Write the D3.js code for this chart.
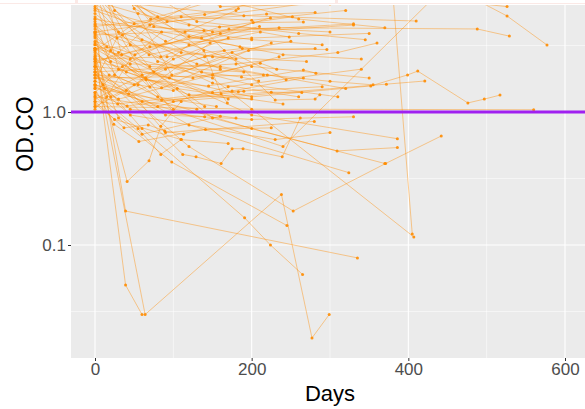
<!DOCTYPE html>
<html>
<head>
<meta charset="utf-8">
<script src="https://cdn.jsdelivr.net/npm/d3@7"></script>
<style>
  body { margin: 0; background: #fff; }
  #chart { width: 585px; height: 409px; overflow: hidden; }
  .axis text { font-family: "Liberation Sans", Arial, sans-serif; fill: #4d4d4d; }
  .axis line { stroke: #333; }
  .axis path { display: none; }
</style>
</head>
<body>
<div id="chart"></div>
<script>
// tick labels
const xTicks = [0, 200, 400, 600];
const xMinor = [100, 300, 500];
const yTicks = [0.1, 1];
const yMinor = [0.0316, 0.316, 3.16];
const refLine = 1.0;

// one array per subject: [days, OD.CO]
const upper = [
  [[0, 12], [71, 5.0], [183, 6.0]],
  [[0, 9.5], [92, 4.8], [219, 5.45], [281, 5.6]],
  [[0, 6.0], [136, 3.6], [224, 5.1]],
  [[0, 4.2], [84, 2.6], [202, 4.7], [266, 4.75]],
  [[0, 3.4], [51, 2.7], [159, 4.35], [252, 5.2]],
  [[0, 15], [34, 2.7], [171, 4.2]],
  [[0, 5.2], [69, 2.7], [211, 4.0], [248, 3.66]],
  [[0, 2.5], [92, 2.6], [188, 3.0], [296, 2.95]],
  [[0, 8], [70, 1.54], [147, 3.3]],
  [[0, 3.0], [85, 1.52], [196, 2.9], [281, 3.0]],
  [[0, 20], [98, 1.9], [225, 3.3]],
  [[0, 2.2], [125, 1.8], [211, 2.33], [232, 2.1]],
  [[0, 1.9], [145, 1.57], [266, 2.07], [282, 1.96]],
  [[0, 6.5], [136, 2.0], [187, 1.83], [209, 1.71]],
  [[0, 1.6], [43, 1.37], [175, 2.8], [244, 1.75]],
  [[0, 1.2], [29, 1.15], [175, 1.44], [266, 1.8]],
  [[0, 1.35], [41, 1.11], [183, 1.42], [190, 1.43]],
  [[0, 2.8], [85, 1.23], [225, 1.41], [264, 1.4]],
  [[0, 11], [139, 2.9], [161, 1.37], [169, 1.17]],
  [[0, 4.6], [139, 4.1], [230, 1.23], [281, 1.25], [287, 1.35]],
  [[0, 25], [160, 6.2], [300, 6.5]],
  [[0, 7.5], [60, 3.5], [130, 2.3], [215, 1.9]],
  [[0, 5.5], [30, 4.0], [110, 2.8], [180, 2.5]],
  [[0, 10], [45, 3.2], [150, 1.65], [260, 1.3]],
  [[0, 3.6], [20, 2.4], [95, 1.8], [170, 1.25]],
  [[0, 2.7], [40, 2.0], [105, 1.5], [240, 1.15]],
  [[0, 16], [75, 4.4], [200, 3.5], [290, 3.2]],
  [[0, 4.8], [25, 1.9], [80, 1.3], [155, 1.1]],
  [[0, 1.8], [50, 1.6], [120, 3.2], [210, 4.4]],
  [[0, 1.4], [35, 2.2], [115, 4.0], [180, 5.8]],
  [[0, 1.25], [60, 1.9], [140, 2.6], [250, 3.4]],
  [[0, 2.0], [20, 1.3], [90, 2.1], [165, 2.9]],
  [[0, 30], [100, 7.5], [230, 6.8]],
  [[0, 6.8], [55, 5.5], [120, 4.5], [300, 4.0]],
  [[0, 3.9], [15, 3.1], [70, 2.2], [190, 2.0]],
  [[0, 8.8], [30, 2.1], [120, 1.35], [200, 1.25]],
  [[0, 5.0], [10, 1.6], [60, 1.2], [130, 1.05]],
  [[0, 2.4], [70, 3.1], [160, 3.9], [330, 4.5]],
  [[0, 1.7], [28, 3.6], [80, 5.2], [150, 6.8]],
  [[0, 1.1], [40, 1.45], [100, 2.5], [170, 3.6]],
  [[0, 12], [25, 5.8], [90, 3.4], [160, 2.1]],
  [[0, 3.2], [65, 1.75], [150, 1.4], [290, 1.55]],
  [[0, 4.4], [110, 5.2], [200, 4.9], [320, 5.8]],
  [[0, 2.9], [50, 4.6], [140, 5.4], [240, 7.5]],
  [[0, 1.55], [30, 1.25], [150, 1.9], [235, 2.6]],
  [[0, 6.2], [35, 3.8], [75, 2.0], [140, 1.1]],
  [[0, 22], [50, 6.0], [120, 3.7], [185, 3.1]],
  [[0, 3.3], [45, 2.3], [160, 2.2], [320, 1.5]],
  [[0, 2.6], [18, 1.9], [55, 1.6], [100, 1.45]],
  [[0, 9], [80, 2.4], [200, 1.6], [310, 1.3]],
  [[0, 1.3], [80, 1.1], [170, 1.55], [340, 2.1]],
  [[0, 14], [130, 4.8], [260, 3.9], [345, 3.5]],
  [[0, 4.0], [150, 2.6], [270, 2.4]],
  [[0, 2.1], [12, 1.5], [45, 1.05], [140, 0.92]],
  [[0, 7], [20, 2.9], [65, 1.8], [100, 1.0]],
  [[0, 1.9], [90, 0.95], [200, 0.88], [330, 0.92]],
  [[0, 3.7], [100, 1.05], [180, 0.9]],
  [[0, 5.8], [200, 2.2], [350, 1.8]],
  [[0, 1.05], [15, 1.3], [45, 2.5], [85, 4.0]],
  [[0, 2.3], [30, 2.8], [70, 4.5], [140, 7.2]],
  [[0, 8], [150, 4.0], [330, 4.6]],
  [[0, 3.0], [200, 3.6], [350, 3.9]],
  [[0, 12], [260, 5.0], [370, 4.3]],
  [[0, 2.0], [180, 2.3], [310, 2.8], [360, 3.3]],
  [[0, 5.0], [240, 2.7], [340, 2.5]],
  [[0, 1.8], [220, 1.9], [300, 1.7], [355, 1.6]]
];

const right = [
  [[0, 2.4], [200, 1.3], [352, 1.57], [399, 1.9], [412, 2.03], [476, 1.17], [497, 1.25], [517, 1.34]],
  [[0, 1.5], [100, 1.2], [372, 1.62], [421, 1.71]],
  [[0, 7], [190, 5.3], [410, 4.83]],
  [[0, 3.8], [235, 4.3], [488, 4.21], [529, 3.72]],
  [[0, 18], [439, 9.8], [526, 5.27], [577, 3.19]],
  [[0, 14], [350, 8], [526, 6.2]],
  [[0, 4], [380, 8], [405, 0.121]],
  [[0, 1.6], [240, 0.55], [440, 8]],
  [[0, 1.1], [200, 1.05], [560, 1.04]]
];

const lower = [
  [[0, 2.5], [41, 0.30], [69, 0.43], [84, 0.78], [110, 1.2]],
  [[0, 4.0], [39, 0.18], [335, 0.08]],
  [[0, 3.0], [39, 0.05], [60, 0.03]],
  [[0, 2.5], [64, 0.03], [238, 0.24], [277, 0.02], [299, 0.03]],
  [[0, 1.9], [60, 0.75], [191, 0.16], [224, 0.1], [265, 0.06]],
  [[0, 2.2], [120, 0.55], [253, 0.18], [371, 0.41], [442, 0.66]],
  [[0, 2.6], [30, 0.9], [98, 0.42], [245, 0.14]],
  [[0, 3.0], [150, 1.8], [407, 0.115]],
  [[0, 4.5], [150, 0.9], [309, 0.51], [386, 0.54]],
  [[0, 1.7], [200, 0.75], [370, 0.41]],
  [[0, 2.0], [120, 0.8], [324, 0.35]],
  [[0, 3.2], [200, 0.95], [386, 0.63]],
  [[0, 2.2], [112, 0.48], [129, 0.46], [161, 0.41], [175, 0.53], [189, 0.53], [239, 0.46], [262, 0.9]],
  [[0, 1.4], [55, 0.75], [84, 0.48], [110, 0.62]],
  [[0, 1.5], [24, 0.81], [56, 0.6], [141, 0.74], [225, 0.76]],
  [[0, 1.2], [37, 0.76], [68, 0.8], [89, 0.72], [113, 0.68]],
  [[0, 1.6], [45, 0.95], [230, 0.62], [300, 0.7]],
  [[0, 1.3], [60, 0.68], [160, 0.93]],
  [[0, 2.9], [90, 0.7], [280, 0.85]],
  [[0, 1.15], [25, 0.88], [110, 0.62], [170, 0.58]]
];

const subjects = upper.concat(right, lower);

function draw() {
  const W = 585, H = 409;
  const panel = { left: 71, right: 589, top: 5, bottom: 358 };

  const svg = d3.select('#chart').append('svg')
    .attr('width', W)
    .attr('height', H);

  // strip at the very top of the crop
  svg.append('rect')
    .attr('x', 0).attr('y', 0).attr('width', W).attr('height', 4)
    .attr('fill', '#fbe9e6');
  [[0, 75], [78, 335], [338, 585]].forEach(r => {
    svg.append('rect')
      .attr('x', r[0]).attr('y', 0).attr('width', r[1] - r[0]).attr('height', 3)
      .attr('fill', '#fff');
  });

  const x = d3.scaleLinear().domain([0, 600]).range([95, 565]);
  const y = d3.scaleLog().domain([0.1, 1]).range([245, 112]);

  // panel
  svg.append('rect')
    .attr('x', panel.left).attr('y', panel.top)
    .attr('width', panel.right - panel.left)
    .attr('height', panel.bottom - panel.top)
    .attr('fill', '#ebebeb');

  svg.append('clipPath').attr('id', 'clip')
    .append('rect')
    .attr('x', panel.left).attr('y', panel.top)
    .attr('width', panel.right - panel.left)
    .attr('height', panel.bottom - panel.top);

  const g = svg.append('g').attr('clip-path', 'url(#clip)');

  // grid
  g.selectAll('.ymin').data(yMinor).enter().append('line')
    .attr('x1', panel.left).attr('x2', panel.right)
    .attr('y1', d => y(d)).attr('y2', d => y(d))
    .attr('stroke', '#fff').attr('stroke-width', 0.55);
  g.selectAll('.xmin').data(xMinor).enter().append('line')
    .attr('y1', panel.top).attr('y2', panel.bottom)
    .attr('x1', d => x(d)).attr('x2', d => x(d))
    .attr('stroke', '#fff').attr('stroke-width', 0.55);
  g.selectAll('.ymaj').data(yTicks).enter().append('line')
    .attr('x1', panel.left).attr('x2', panel.right)
    .attr('y1', d => y(d)).attr('y2', d => y(d))
    .attr('stroke', '#fff').attr('stroke-width', 1.1);
  g.selectAll('.xmaj').data(xTicks).enter().append('line')
    .attr('y1', panel.top).attr('y2', panel.bottom)
    .attr('x1', d => x(d)).attr('x2', d => x(d))
    .attr('stroke', '#fff').attr('stroke-width', 1.1);

  // subject lines
  const line = d3.line()
    .x(d => x(d[0]))
    .y(d => y(d[1]));

  g.selectAll('.subj').data(subjects).enter().append('path')
    .attr('d', line)
    .attr('fill', 'none')
    .attr('stroke', '#ff8c00')
    .attr('stroke-opacity', 0.5)
    .attr('stroke-width', 0.85);

  g.selectAll('.pt').data(subjects.flat()).enter().append('circle')
    .attr('cx', d => x(d[0]))
    .attr('cy', d => y(d[1]))
    .attr('r', 1.5)
    .attr('fill', '#ff8c00')
    .attr('fill-opacity', 0.9);

  // reference line at 1
  g.append('line')
    .attr('x1', panel.left).attr('x2', panel.right)
    .attr('y1', y(refLine)).attr('y2', y(refLine))
    .attr('stroke', '#a020f0')
    .attr('stroke-width', 3);

  // axes
  svg.append('g')
    .attr('class', 'axis')
    .attr('transform', `translate(0,${panel.bottom})`)
    .call(d3.axisBottom(x).tickValues(xTicks).tickSize(3).tickPadding(2))
    .selectAll('text').attr('font-size', '17px');

  svg.append('g')
    .attr('class', 'axis')
    .attr('transform', `translate(${panel.left},0)`)
    .call(d3.axisLeft(y).tickValues(yTicks).tickFormat(d3.format('.1f')).tickSize(3).tickPadding(2))
    .selectAll('text').attr('font-size', '17px');

  // titles
  svg.append('text')
    .attr('x', 330).attr('y', 401)
    .attr('text-anchor', 'middle')
    .attr('font-family', '"Liberation Sans", Arial, sans-serif')
    .attr('font-size', '22px')
    .attr('fill', '#000')
    .text('Days');

  svg.append('text')
    .attr('transform', 'rotate(-90)')
    .attr('x', -134).attr('y', 33)
    .attr('text-anchor', 'middle')
    .attr('font-family', '"Liberation Sans", Arial, sans-serif')
    .attr('font-size', '23px')
    .attr('fill', '#000')
    .text('OD.CO');
}

draw();
</script>
</body>
</html>
